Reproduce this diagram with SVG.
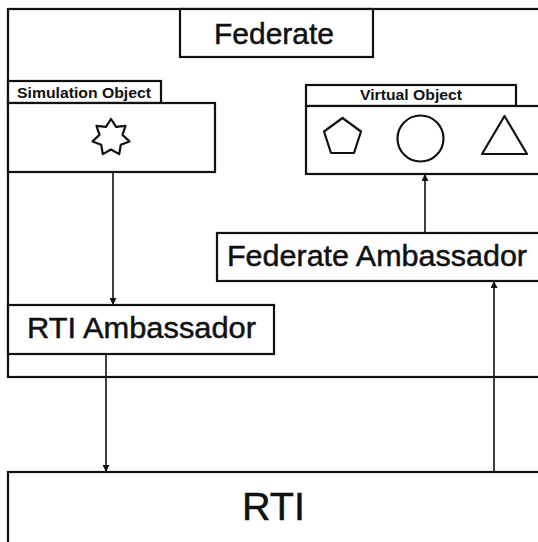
<svg xmlns="http://www.w3.org/2000/svg" width="538" height="542" viewBox="0 0 538 542">
<defs>
<style>
.box{fill:#fff;stroke:#111;stroke-width:2.2}
.shape{fill:none;stroke:#111;stroke-width:2.2;stroke-linejoin:round}
.big{font-family:"Liberation Sans",Arial,sans-serif;fill:#111;stroke:#111;stroke-width:0.5}
.small{font-family:"Liberation Sans",Arial,sans-serif;font-weight:bold;fill:#111}
.conn{stroke:#111;stroke-width:1.6;fill:none}
</style>
<marker id="ah" viewBox="0 0 10 10" refX="10" refY="5" markerWidth="11" markerHeight="7" markerUnits="userSpaceOnUse" orient="auto">
<path d="M0,0 L10,5 L0,10 z" fill="#111"/>
</marker>
</defs>
<rect width="538" height="542" fill="#fff"/>
<g id="federate">
<rect class="box" x="8" y="9" width="540" height="368"/>
<rect class="box" x="180" y="9" width="193" height="48"/>
<text class="big" x="214" y="44" font-size="30" textLength="120" lengthAdjust="spacingAndGlyphs">Federate</text>
</g>
<g id="simulation-object">
<rect class="box" x="8" y="81" width="153" height="22"/>
<text class="small" x="17" y="97.5" font-size="15" textLength="134" lengthAdjust="spacingAndGlyphs">Simulation Object</text>
<rect class="box" x="8" y="103" width="207" height="69"/>
<polygon class="shape" points="111.0,119.0 116.1,126.9 125.5,125.8 122.5,134.9 129.5,141.4 120.8,144.8 119.2,154.1 111.0,149.5 102.8,154.1 101.2,144.8 92.5,141.4 99.5,134.9 96.5,125.8 105.9,126.9"/>
</g>
<g id="virtual-object">
<rect class="box" x="306" y="85" width="210" height="21"/>
<text class="small" x="360" y="100" font-size="15" textLength="102" lengthAdjust="spacingAndGlyphs">Virtual Object</text>
<rect class="box" x="306" y="106" width="240" height="68"/>
<polygon class="shape" points="342.5,118 361,131.5 354,153 331,153 324,131.5"/>
<circle class="shape" cx="420.5" cy="138.5" r="23"/>
<polygon class="shape" points="504.5,116 527,154 482,154"/>
</g>
<g id="federate-ambassador">
<rect class="box" x="217" y="233" width="330" height="48"/>
<text class="big" x="227" y="266" font-size="30" textLength="300" lengthAdjust="spacingAndGlyphs">Federate Ambassador</text>
</g>
<g id="rti-ambassador">
<rect class="box" x="8" y="305" width="266" height="49"/>
<text class="big" x="27" y="338" font-size="30" textLength="229" lengthAdjust="spacingAndGlyphs">RTI Ambassador</text>
</g>
<g id="rti">
<rect class="box" x="8" y="472" width="540" height="80"/>
<text class="big" x="242" y="520" font-size="38" textLength="63" lengthAdjust="spacingAndGlyphs">RTI</text>
</g>
<g id="connectors">
<line class="conn" x1="113" y1="172" x2="113" y2="305" marker-end="url(#ah)"/>
<line class="conn" x1="425" y1="233" x2="425" y2="174" marker-end="url(#ah)"/>
<line class="conn" x1="106" y1="354" x2="106" y2="472" marker-end="url(#ah)"/>
<line class="conn" x1="494" y1="472" x2="494" y2="281" marker-end="url(#ah)"/>
</g>
</svg>
